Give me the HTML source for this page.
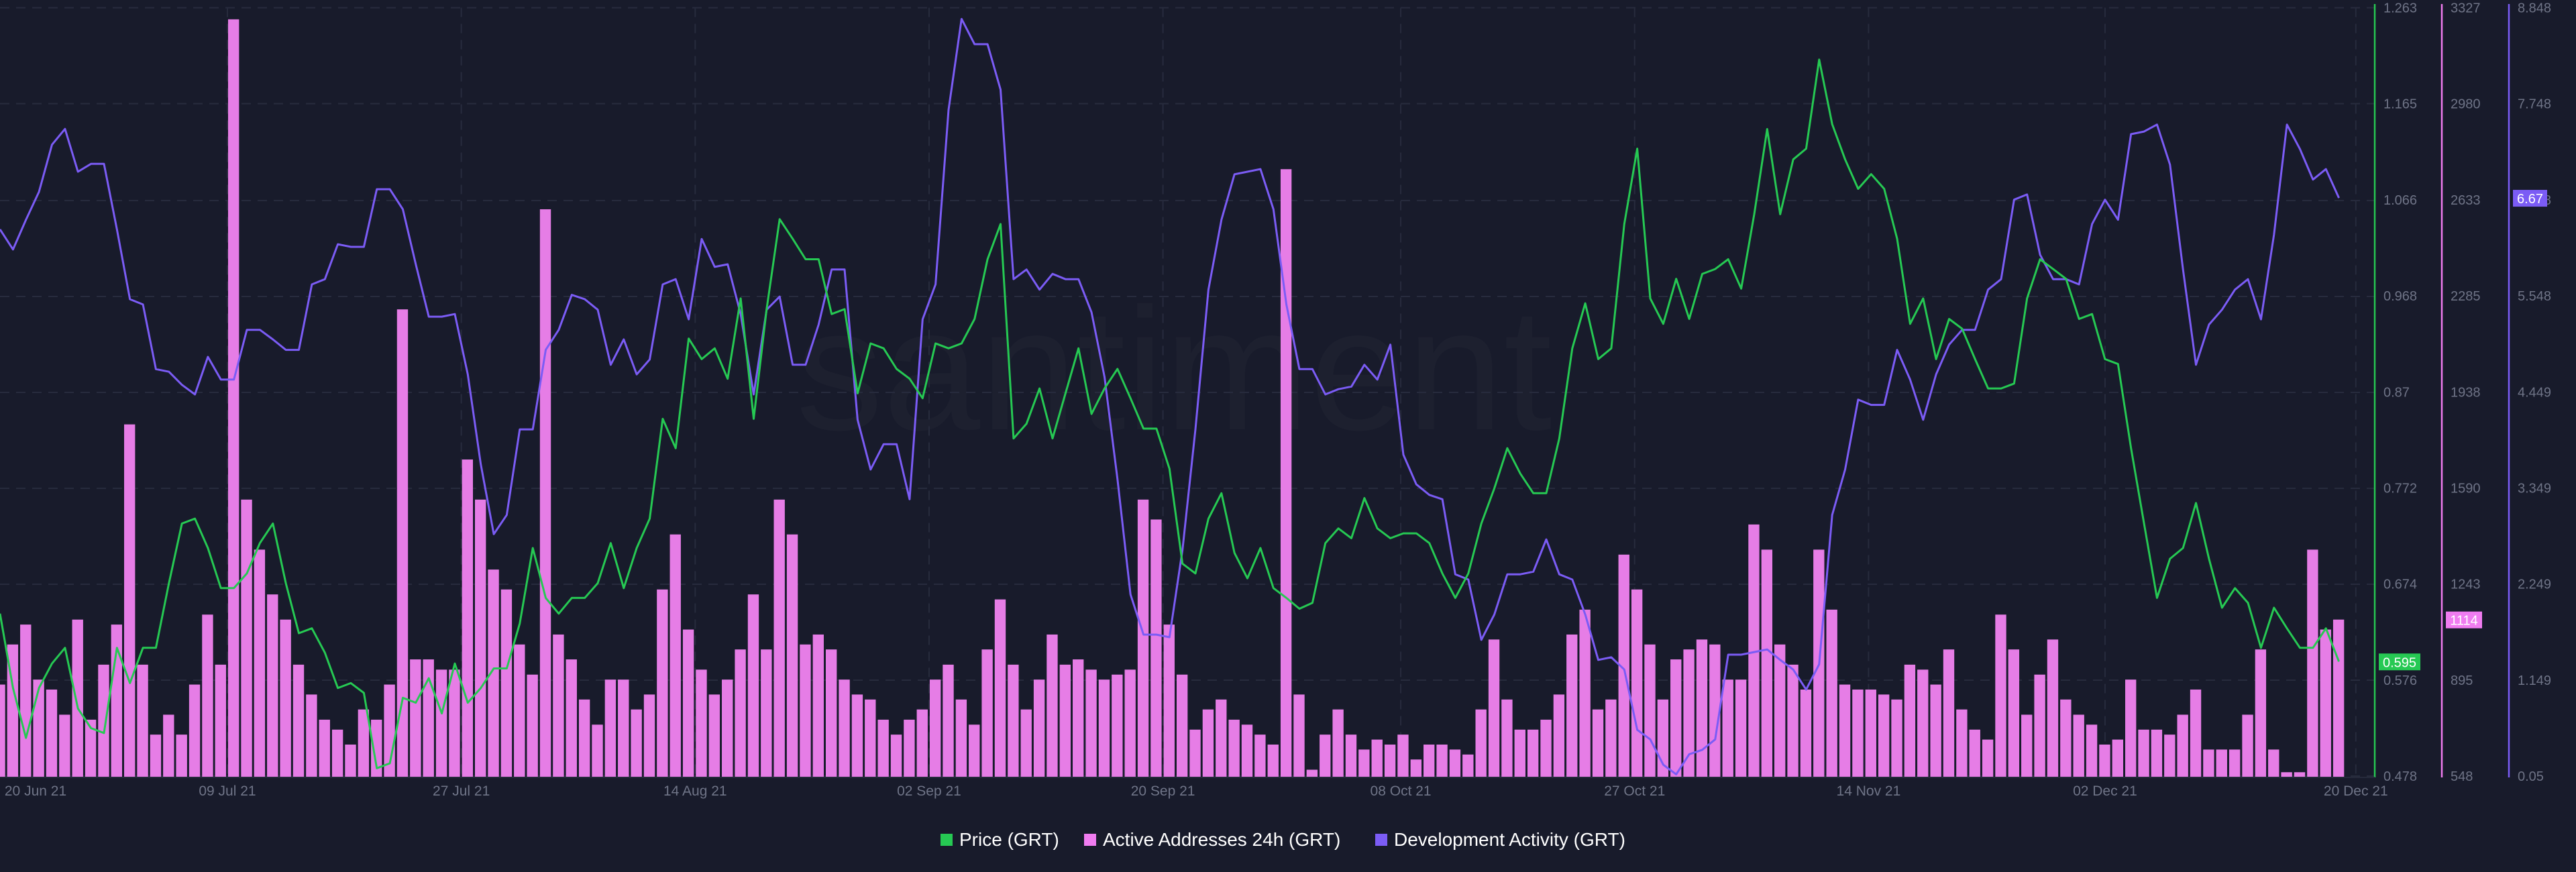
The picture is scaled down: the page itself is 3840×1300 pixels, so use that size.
<!DOCTYPE html>
<html><head><meta charset="utf-8"><style>
html,body{margin:0;padding:0;background:#181b2b;}
svg{display:block;font-family:"Liberation Sans",sans-serif;}
</style></head><body>
<svg id="chart" width="3840" height="1300" viewBox="0 0 3840 1300" xmlns="http://www.w3.org/2000/svg">
<rect x="0" y="0" width="3840" height="1300" fill="#181b2b"/>
<text x="1750" y="640" font-size="260" fill="#ffffff" fill-opacity="0.025" text-anchor="middle">santiment</text>
<g id="grid"></g>
<g id="bars"></g>
<g id="lines"></g>
<g id="axes"></g>
<g>
  <g>
    <rect x="1402" y="1243" width="18" height="18" fill="#26c953"/>
    <text x="1430" y="1261" font-size="28" fill="#ffffff">Price (GRT)</text>
  </g>
  <g>
    <rect x="1616" y="1243" width="18" height="18" fill="#f07cf0"/>
    <text x="1644" y="1261" font-size="28" fill="#ffffff">Active Addresses 24h (GRT)</text>
  </g>
  <g>
    <rect x="2050" y="1243" width="18" height="18" fill="#7b5cf5"/>
    <text x="2078" y="1261" font-size="28" fill="#ffffff">Development Activity (GRT)</text>
  </g>
</g>
</svg>
<script>
const priceValues = [0.644,0.568,0.517,0.568,0.593,0.609,0.547,0.527,0.522,0.609,0.573,0.609,0.609,0.675,0.736,0.741,0.711,0.670,0.670,0.685,0.716,0.736,0.675,0.624,0.629,0.604,0.568,0.573,0.563,0.486,0.491,0.558,0.553,0.578,0.542,0.593,0.553,0.568,0.588,0.588,0.634,0.711,0.660,0.644,0.660,0.660,0.675,0.716,0.670,0.711,0.741,0.843,0.813,0.925,0.904,0.915,0.884,0.966,0.843,0.955,1.047,1.027,1.006,
1.006,0.950,0.955,0.869,0.920,0.915,0.894,0.884,0.864,0.920,0.915,0.920,0.945,1.006,1.042,0.823,0.838,0.874,0.823,0.869,0.915,0.848,0.874,0.894,0.864,0.833,0.833,0.792,0.695,0.685,0.741,0.767,0.706,0.680,0.711,0.670,0.660,0.649,0.655,0.716,0.731,0.721,0.762,0.731,0.721,0.726,0.726,0.716,0.685,0.660,0.685,0.736,0.772,0.813,0.787,0.767,0.767,0.823,0.915,0.961,0.904,0.915,
1.042,1.119,0.966,0.940,0.986,0.945,0.991,0.996,1.006,0.976,1.052,1.139,1.052,1.108,1.119,1.210,1.144,1.108,1.078,1.093,1.078,1.027,0.940,0.966,0.904,0.945,0.935,0.904,0.874,0.874,0.879,0.966,1.006,0.996,0.986,0.945,0.950,0.904,0.899,0.813,0.736,0.660,0.700,0.711,0.757,0.700,0.650,0.670,0.655,0.609,0.650,0.629,0.609,0.609,0.629,0.595];
const activeAddresses = [879,1024,1096,897,861,770,1114,752,951,1096,1820,951,698,770,698,879,1132,951,3285,1548,1367,1205,1114,951,843,752,716,662,789,752,879,2236,970,970,933,933,1693,1548,1295,1223,1024,915,2598,1060,970,825,734,897,897,789,843,1223,1422,1078,933,843,897,1006,1205,1006,1548,1422,1024,
1060,1006,897,843,825,752,698,752,789,897,951,825,734,1006,1187,951,789,897,1060,951,970,933,897,915,933,1548,1476,1096,915,716,789,825,752,734,698,662,2743,843,571,698,789,698,644,680,662,698,608,662,662,644,626,789,1042,825,716,716,752,843,1060,1150,789,825,
1349,1223,1024,825,970,1006,1042,1024,897,897,1458,1367,1024,951,861,1367,1150,879,861,861,843,825,951,933,879,1006,789,716,680,1132,1006,770,915,1042,825,770,734,662,680,897,716,716,698,770,861,644,644,644,770,1006,644,562,562,1367,1078,1114];
const devActivity = [6.31,6.08,6.42,6.74,7.28,7.46,6.97,7.06,7.06,6.31,5.51,5.45,4.71,4.68,4.53,4.42,4.85,4.59,4.59,5.16,5.16,5.05,4.93,4.93,5.68,5.74,6.14,6.11,6.11,6.77,6.77,6.54,5.91,5.31,5.31,5.34,4.65,3.62,2.82,3.04,4.02,4.02,4.93,5.16,5.56,5.51,5.39,4.76,5.05,4.65,4.82,5.68,5.74,5.28,6.20,5.88,5.91,5.34,4.42,5.39,5.54,4.76,4.76,
5.22,5.85,5.85,4.13,3.56,3.85,3.85,3.22,5.28,5.68,7.68,8.72,8.43,8.43,7.91,5.74,5.85,5.62,5.80,5.74,5.74,5.36,4.62,3.45,2.13,1.67,1.67,1.64,2.64,4.02,5.62,6.42,6.94,6.97,7.00,6.54,5.45,4.71,4.71,4.42,4.48,4.51,4.76,4.59,4.99,3.73,3.39,3.27,3.22,2.36,2.30,1.61,1.90,2.36,2.36,2.39,2.76,2.36,2.30,1.90,1.38,1.41,
1.27,0.58,0.47,0.18,0.07,0.30,0.35,0.47,1.44,1.44,1.47,1.50,1.38,1.27,1.04,1.33,3.04,3.56,4.36,4.30,4.30,4.93,4.59,4.13,4.65,4.99,5.16,5.16,5.62,5.74,6.65,6.71,6.02,5.74,5.74,5.68,6.37,6.65,6.42,7.40,7.43,7.51,7.05,5.85,4.76,5.22,5.39,5.62,5.74,5.28,6.25,7.51,7.23,6.88,7.00,6.67];
const priceTicks = ["1.263","1.165","1.066","0.968","0.87","0.772","0.674","0.576","0.478"];
const activeTicks = ["3327","2980","2633","2285","1938","1590","1243","895","548"];
const devTicks = ["8.848","7.748","6.648","5.548","4.449","3.349","2.249","1.149","0.05"];
const dateLabels = ["20 Jun 21","09 Jul 21","27 Jul 21","14 Aug 21","02 Sep 21","20 Sep 21","08 Oct 21","27 Oct 21","14 Nov 21","02 Dec 21","20 Dec 21"];
const dateIndex = [0,17.5,35.5,53.5,71.5,89.5,107.8,125.8,143.8,162,181.3];

const NS = "http://www.w3.org/2000/svg";
const TOP = 11.5, BOT = 1157, STEP = 19.37, PLOT_R = 3540;
function xAt(i){ return i*STEP; }
function yScale(min,max){ return v => BOT - (v-min)/(max-min)*(BOT-TOP); }
const yPrice = yScale(0.478,1.263), yActive = yScale(548,3327), yDev = yScale(0.05,8.848);
function mk(tag, attrs, parent){ const e=document.createElementNS(NS,tag); for(const k in attrs) e.setAttribute(k,attrs[k]); parent.appendChild(e); return e; }

const grid=document.getElementById('grid');
priceTicks.forEach((t,k)=>{
  const y=yPrice(parseFloat(t));
  const l=mk('line',{x1:0,x2:PLOT_R,y1:y,y2:y,stroke:'#272b3d','stroke-width':2,'stroke-dasharray':'14 10'},grid);
  
  
});
dateIndex.forEach((di,k)=>{
  if(k===0) return;
  const x=xAt(di);
  const l=mk('line',{x1:x,x2:x,y1:TOP,y2:BOT,stroke:'#272b3d','stroke-width':2,'stroke-dasharray':'14 10'},grid);
  
  
});

const bars=document.getElementById('bars');
activeAddresses.forEach((v,i)=>{
  const x=xAt(i), y=yActive(v);
  const r=mk('rect',{x:x-STEP/2+1,y:y,width:STEP-3,height:1159-y,fill:'#e67de6'},bars);
  
  
});

const lines=document.getElementById('lines');
function linePath(arr,ys){ return arr.map((v,i)=>(i?'L':'M')+xAt(i).toFixed(1)+' '+ys(v).toFixed(1)).join(' '); }
const dev=mk('path',{d:linePath(devActivity,yDev),fill:'none',stroke:'#7b5cf5','stroke-width':3,'stroke-linejoin':'round'},lines);


const pr=mk('path',{d:linePath(priceValues,yPrice),fill:'none',stroke:'#26c953','stroke-width':3,'stroke-linejoin':'round'},lines);



const axes=document.getElementById('axes');
const axisDefs=[
  {x:3540,color:'#26c953',ticks:priceTicks,name:'price-axis'},
  {x:3640,color:'#f07cf0',ticks:activeTicks,name:'active-addresses-axis'},
  {x:3740,color:'#7b5cf5',ticks:devTicks,name:'development-activity-axis'}];
axisDefs.forEach(a=>{
  const l=mk('line',{x1:a.x,x2:a.x,y1:6,y2:1159,stroke:a.color,'stroke-width':2.5},axes);
  
  
  a.ticks.forEach((t,k)=>{
    const y=TOP+k*(BOT-TOP)/(a.ticks.length-1);
    const tx=mk('text',{x:a.x+13,y:y+7,'font-size':20,fill:'#6f7487'},axes);
    tx.textContent=t;
    
    
  });
});
const xAxis=mk('line',{x1:0,x2:PLOT_R,y1:1159,y2:1159,stroke:'#262a3b','stroke-width':2},axes);


dateLabels.forEach((t,k)=>{
  let x=xAt(dateIndex[k]);
  const tx=mk('text',{x:Math.max(x,53),y:1186,'font-size':21,fill:'#6f7487','text-anchor':'middle'},axes);
  tx.textContent=t;
  
  
});
// last value badges
const badges=[
  {x:3546,w:62,v:priceValues[priceValues.length-1],ys:yPrice,color:'#26c953',txt:priceValues[priceValues.length-1].toFixed(3),name:'price-last-value'},
  {x:3646,w:54,v:activeAddresses[activeAddresses.length-1],ys:yActive,color:'#f07cf0',txt:String(activeAddresses[activeAddresses.length-1]),name:'active-addresses-last-value'},
  {x:3746,w:51,v:devActivity[devActivity.length-1],ys:yDev,color:'#7b5cf5',txt:devActivity[devActivity.length-1].toFixed(2),name:'development-activity-last-value'}];
badges.forEach(b=>{
  const y=b.ys(b.v);
  const g=mk('g',{},axes);
  
  
  mk('rect',{x:b.x,y:y-12,width:b.w,height:25,fill:b.color},g);
  const t=mk('text',{x:b.x+b.w/2,y:y+8,'font-size':20,fill:'#ffffff','text-anchor':'middle'},g);
  t.textContent=b.txt;
});
</script>
</body></html>
